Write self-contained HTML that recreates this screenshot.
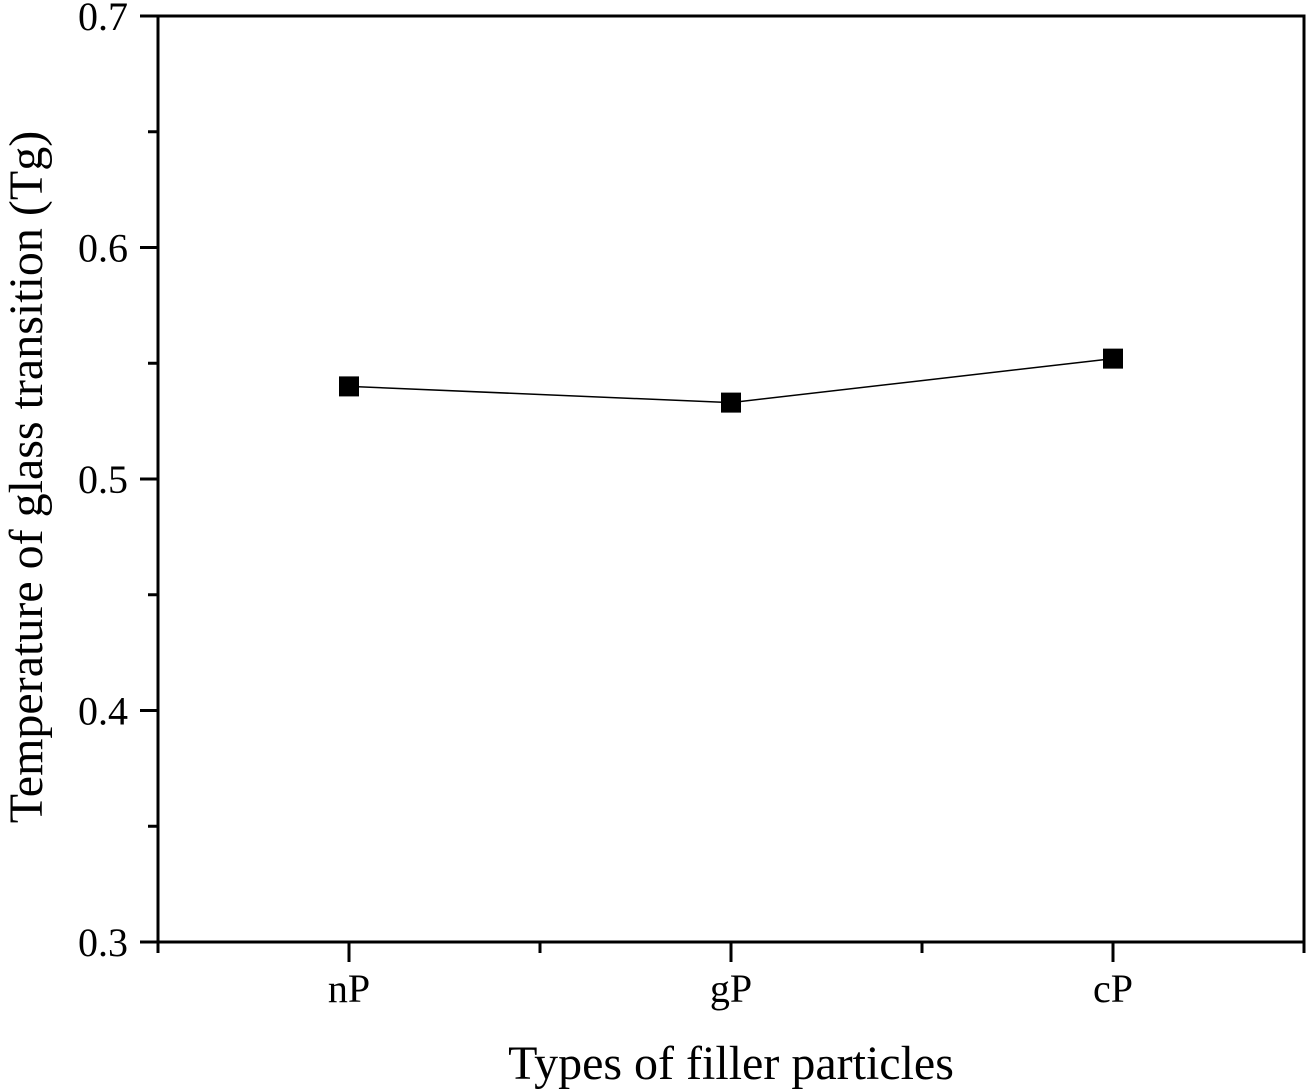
<!DOCTYPE html>
<html><head><meta charset="utf-8"><style>
body{margin:0;background:#fff}
svg{display:block;font-family:"Liberation Serif",serif}
</style></head><body>
<svg id="chart" width="1307" height="1090" viewBox="0 0 1307 1090" xmlns="http://www.w3.org/2000/svg">
<g id="frame"></g>
<g id="ticks"></g>
<g id="series"></g>
<text x="731" y="1079" font-size="48" text-anchor="middle">Types of filler particles</text>
<text transform="translate(42,477) rotate(-90)" font-size="48" text-anchor="middle">Temperature of glass transition (Tg)</text>
</svg>
<script>
const categories = ["nP", "gP", "cP"];
const tgValues = [0.540, 0.533, 0.552];
const yTicks = [0.3, 0.4, 0.5, 0.6, 0.7];
const yTickLabels = ["0.3", "0.4", "0.5", "0.6", "0.7"];
const yMinorTicks = [0.35, 0.45, 0.55, 0.65];

const L=158,R=1304,T=16,B=942;
const X=i=>L+(i+0.5)*(R-L)/categories.length;
const Y=v=>B-(v-0.3)/(0.7-0.3)*(B-T);
const NS="http://www.w3.org/2000/svg";
function mk(tag,attrs,parent){const e=document.createElementNS(NS,tag);for(const k in attrs)e.setAttribute(k,attrs[k]);parent.appendChild(e);return e;}
const frame=document.getElementById('frame'),ticks=document.getElementById('ticks'),series=document.getElementById('series');
const box=mk('rect',{x:L,y:T,width:R-L,height:B-T,fill:'none',stroke:'#000','stroke-width':3},frame);


yTicks.forEach((v,i)=>{
  const t=mk('line',{x1:L-18,x2:L,y1:Y(v),y2:Y(v),stroke:'#000','stroke-width':3},ticks);
  
  
  const lb=mk('text',{x:L-30,y:Y(v)+14,'font-size':40,'text-anchor':'end'},ticks);
  lb.textContent=yTickLabels[i];
  
  
});
yMinorTicks.forEach(v=>{
  const t=mk('line',{x1:L-10,x2:L,y1:Y(v),y2:Y(v),stroke:'#000','stroke-width':3},ticks);
  
  
});
for(let k=0;k<=categories.length;k++){
  const x=L+k*(R-L)/categories.length;
  const t=mk('line',{x1:x,x2:x,y1:B,y2:B+11,stroke:'#000','stroke-width':3},ticks);
  
  
}
categories.forEach((c,i)=>{
  const t=mk('line',{x1:X(i),x2:X(i),y1:B,y2:B+20,stroke:'#000','stroke-width':3},ticks);
  
  
  const lb=mk('text',{x:X(i),y:B+60,'font-size':40,'text-anchor':'middle'},ticks);
  lb.textContent=c;
  
  
});
const line=mk('polyline',{points:tgValues.map((v,i)=>X(i)+','+Y(v)).join(' '),fill:'none',stroke:'#000','stroke-width':1.5},series);


tgValues.forEach((v,i)=>{
  const m=mk('rect',{x:X(i)-10,y:Y(v)-10,width:20,height:20,fill:'#000'},series);
  
  
});
</script>
</body></html>
